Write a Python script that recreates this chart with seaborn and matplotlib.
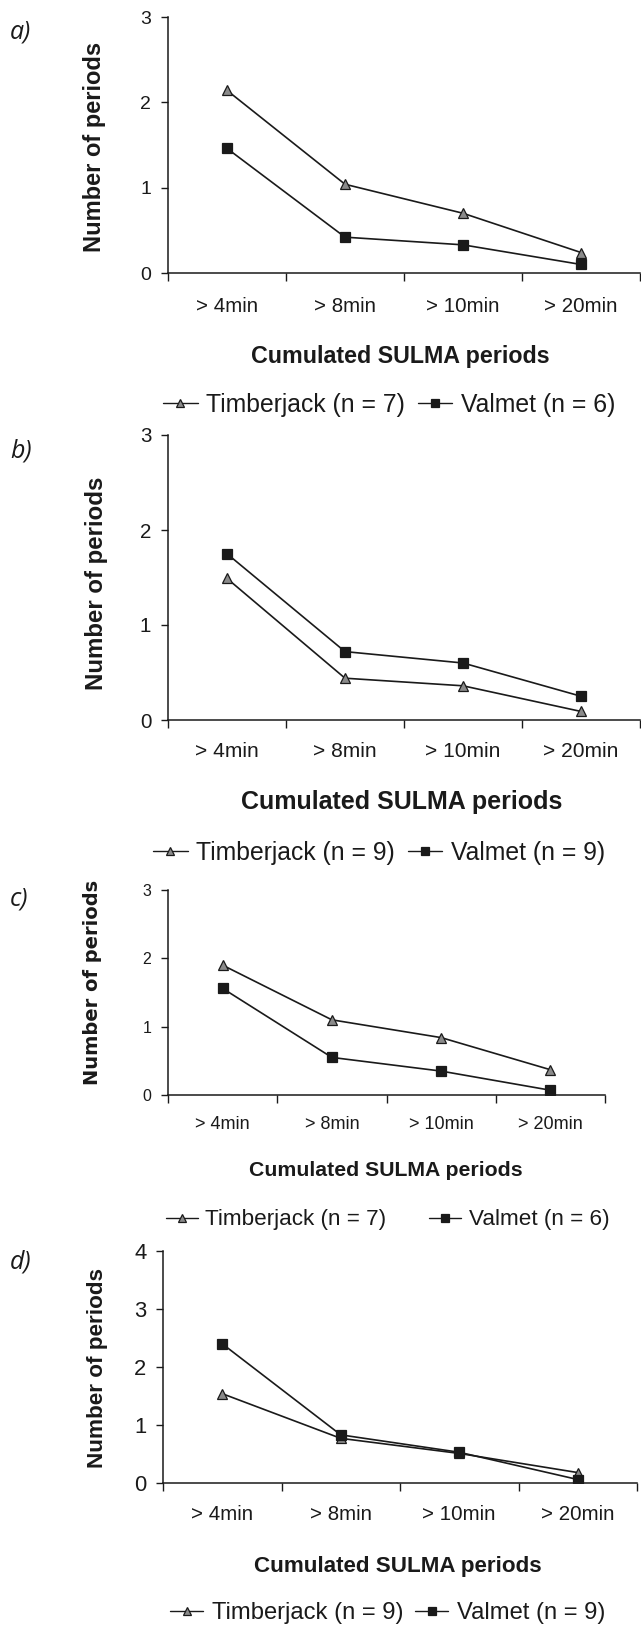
import matplotlib
matplotlib.use("Agg")
import matplotlib.pyplot as plt
import seaborn as sns
import pandas as pd
from matplotlib.ticker import FixedLocator

# ---------------- data ----------------
categories = ["> 4min", "> 8min", "> 10min", "> 20min"]

a_timberjack = [2.14, 1.04, 0.70, 0.24]
a_valmet = [1.46, 0.42, 0.33, 0.10]
b_timberjack = [1.49, 0.44, 0.36, 0.09]
b_valmet = [1.75, 0.72, 0.60, 0.25]
c_timberjack = [1.90, 1.10, 0.84, 0.37]
c_valmet = [1.56, 0.55, 0.35, 0.07]
d_timberjack = [1.54, 0.77, 0.51, 0.18]
d_valmet = [2.40, 0.83, 0.53, 0.06]

legend_labels = {
    "a": ["Timberjack (n = 7)", "Valmet (n = 6)"],
    "b": ["Timberjack (n = 9)", "Valmet (n = 9)"],
    "c": ["Timberjack (n = 7)", "Valmet (n = 6)"],
    "d": ["Timberjack (n = 9)", "Valmet (n = 9)"],
}
y_max = {"a": 3, "b": 3, "c": 3, "d": 4}
panel_letters = ["a", "b", "c", "d"]
xlabel_text = "Cumulated SULMA periods"
ylabel_text = "Number of periods"

# ---------------- style ----------------
sns.set_style("ticks")
plt.rcParams["font.family"] = ["Liberation Sans", "DejaVu Sans"]

W, H = 641, 1628
DPI = 100
fig = plt.figure(figsize=(W / DPI, H / DPI), dpi=DPI)

def pt(px):
    return px * 72.0 / DPI

def fx(x):
    return x / W

def fy(y):
    return 1 - y / H

# layout (pixel coordinates, top-left origin)
layout = {
    "a": dict(l=168, r=640, t=17, b=273, tick_fs=20.5, ytick_fs=19.5, xl_fs=23.3, yl_fs=23.6,
              xl_x=400, xl_y=363, yl_x=94, yl_y=147, lab_y=32, leg_x=163, leg_y=405, leg_fs=24.8,
              colsp=0.5, yl_font="Liberation Sans", tick_pad=17),
    "b": dict(l=168, r=640, t=435, b=720, tick_fs=21, ytick_fs=20.5, xl_fs=25, yl_fs=24,
              xl_x=402, xl_y=809, yl_x=96, yl_y=583, lab_y=451, leg_x=153, leg_y=853, leg_fs=24.8,
              colsp=0.5, yl_font="Liberation Sans", tick_pad=16),
    "c": dict(l=168, r=605, t=890, b=1095, tick_fs=18, ytick_fs=16, xl_fs=21.3, yl_fs=19.5,
              xl_x=386, xl_y=1176, yl_x=92, yl_y=982, lab_y=899, leg_x=166, leg_y=1220, leg_fs=22.5,
              colsp=1.9, yl_font="DejaVu Sans", tick_pad=15),
    "d": dict(l=163, r=637, t=1251, b=1483, tick_fs=20.5, ytick_fs=22, xl_fs=22.4, yl_fs=22.5,
              xl_x=398, xl_y=1572, yl_x=98, yl_y=1368, lab_y=1262, leg_x=170, leg_y=1613, leg_fs=23.8,
              colsp=0.5, yl_font="Liberation Sans", tick_pad=16),
}

series = {
    "a": (a_timberjack, a_valmet),
    "b": (b_timberjack, b_valmet),
    "c": (c_timberjack, c_valmet),
    "d": (d_timberjack, d_valmet),
}

line_color = "#1a1a1a"
tri_face = "#8a8a8a"
sq_face = "#1a1a1a"

for p in panel_letters:
    L = layout[p]
    ax = fig.add_axes([fx(L["l"]), fy(L["b"]), fx(L["r"] - L["l"]), (L["b"] - L["t"]) / H])
    tj, va = series[p]
    lab_tj, lab_va = legend_labels[p]

    df_tj = pd.DataFrame({"period": categories, "value": tj})
    df_va = pd.DataFrame({"period": categories, "value": va})

    sns.lineplot(data=df_tj, x="period", y="value", ax=ax, color=line_color, lw=1.2,
                 marker="^", markersize=7.5, markerfacecolor=tri_face, markeredgecolor=line_color,
                 markeredgewidth=0.9, label=lab_tj, sort=False)
    sns.lineplot(data=df_va, x="period", y="value", ax=ax, color=line_color, lw=1.2,
                 marker="s", markersize=6.8, markerfacecolor=sq_face, markeredgecolor=line_color,
                 markeredgewidth=0.9, label=lab_va, sort=False)

    ax.set_xlim(-0.5, len(categories) - 0.5)
    ax.set_ylim(0, y_max[p])
    ax.set_yticks(range(0, y_max[p] + 1))
    ax.set_xticks(range(len(categories)))
    ax.set_xticklabels(categories)
    ax.xaxis.set_minor_locator(FixedLocator([i - 0.5 for i in range(len(categories) + 1)]))
    ax.tick_params(axis="x", which="major", length=0, pad=L["tick_pad"], labelsize=pt(L["tick_fs"]),
                   colors="#1a1a1a")
    ax.tick_params(axis="x", which="minor", length=6, width=1.0, direction="out", color="#1a1a1a")
    ax.tick_params(axis="y", which="major", length=5, width=1.0, direction="out", pad=7,
                   labelsize=pt(L["ytick_fs"]), colors="#1a1a1a")

    for s in ["top", "right"]:
        ax.spines[s].set_visible(False)
    for s in ["left", "bottom"]:
        ax.spines[s].set_linewidth(1.1)
        ax.spines[s].set_color("#1a1a1a")

    ax.set_xlabel(xlabel_text, fontsize=pt(L["xl_fs"]), fontweight="bold", color="#1a1a1a")
    ax.xaxis.set_label_coords(fx(L["xl_x"]), fy(L["xl_y"]), transform=fig.transFigure)
    ax.xaxis.label.set_va("baseline")

    ax.set_ylabel(ylabel_text, fontsize=pt(L["yl_fs"]), fontweight="bold", color="#1a1a1a",
                  family=L["yl_font"])
    ax.yaxis.set_label_coords(fx(L["yl_x"]), fy(L["yl_y"]), transform=fig.transFigure)
    ax.yaxis.label.set_va("center")

    fig.text(fx(10), fy(L["lab_y"]), p + ")", fontsize=pt(25), style="italic",
             family=["Open Sans", "DejaVu Sans"], ha="left", va="center", color="#1a1a1a")

    leg = ax.legend(loc="center left", bbox_to_anchor=(fx(L["leg_x"]), fy(L["leg_y"])),
                    bbox_transform=fig.transFigure, ncol=2, frameon=False,
                    fontsize=pt(L["leg_fs"]), handlelength=1.4, handletextpad=0.35,
                    columnspacing=L["colsp"], borderpad=0, borderaxespad=0)
    for h in leg.legend_handles:
        h.set_markersize(5.5)
        h.set_linewidth(1.0)
    for t in leg.get_texts():
        t.set_color("#1a1a1a")

fig.savefig("out.png", dpi=DPI)
